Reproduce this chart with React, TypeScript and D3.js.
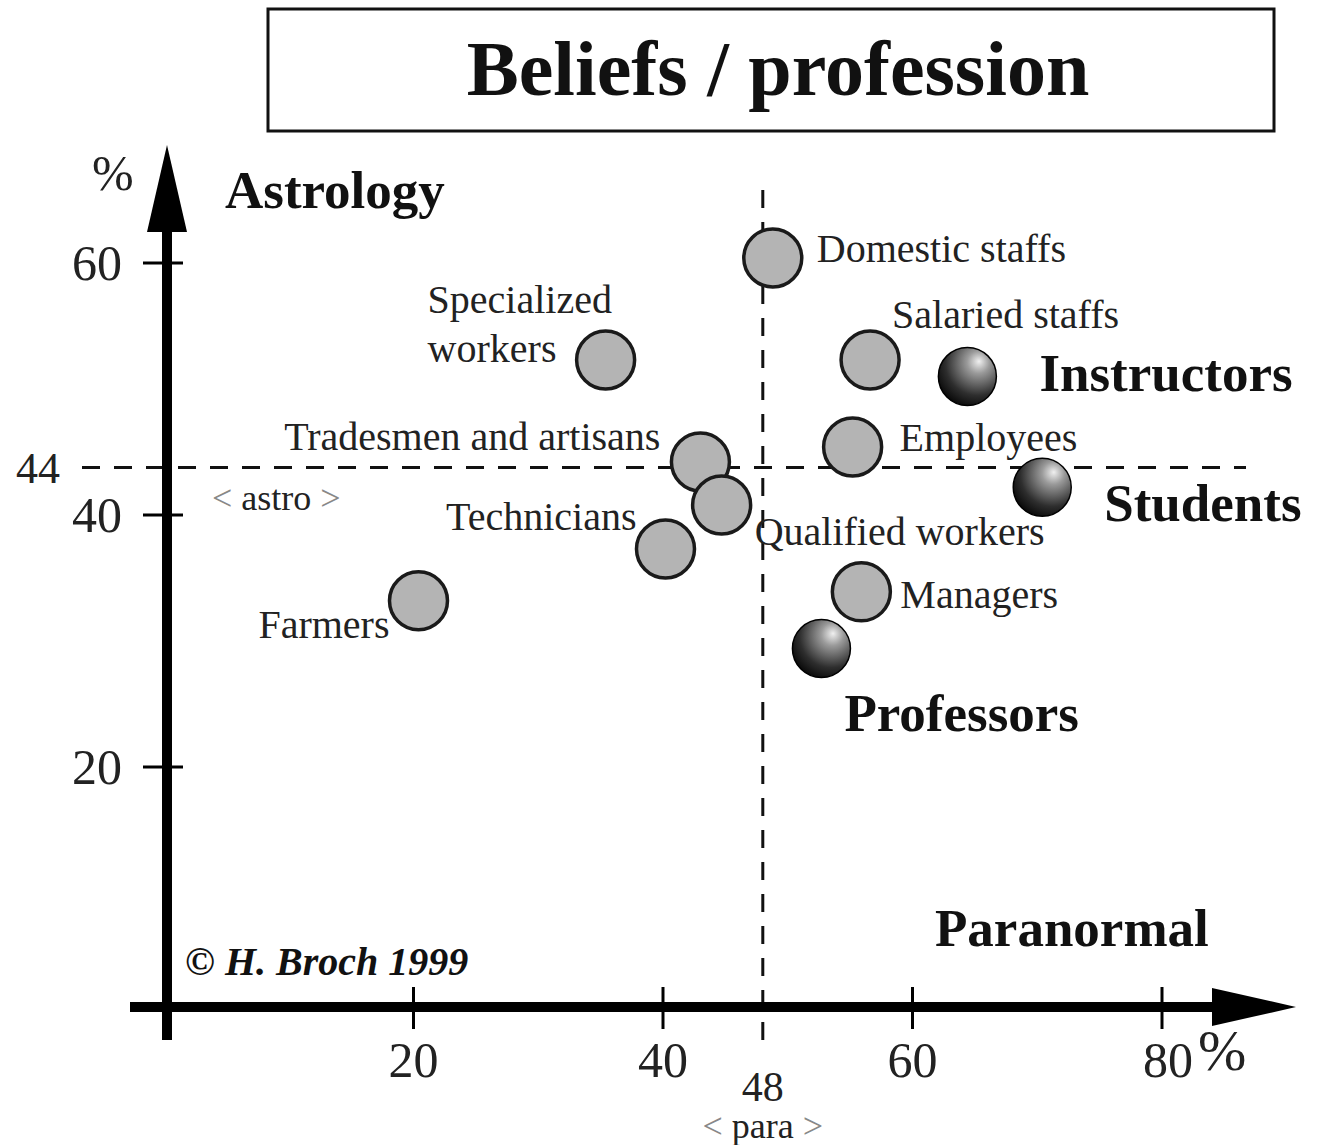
import * as d3 from "d3";

// ── Data ────────────────────────────────────────────────────────────────
const professions = [
  "Domestic staffs",
  "Specialized workers",
  "Salaried staffs",
  "Instructors",
  "Employees",
  "Tradesmen and artisans",
  "Students",
  "Qualified workers",
  "Technicians",
  "Farmers",
  "Managers",
  "Professors",
];
// % believing in paranormal (x) and astrology (y)
const paranormal = [48.8, 35.4, 56.6, 64.4, 55.2, 43.0, 70.4, 44.7, 40.2, 20.4, 55.9, 52.7];
const astrology = [60.4, 52.3, 52.3, 51.0, 45.4, 44.2, 42.2, 40.8, 37.3, 33.2, 33.9, 29.4];
// highlighted groups (dark spheres, bold labels)
const highlighted = ["Instructors", "Students", "Professors"];

const xTicks = [20, 40, 60, 80];
const yTicks = [20, 40, 60];
const paraMean = 48;
const astroMean = 44;

// label placement relative to each point: [dx, dy, anchor]
const labelPos: Record<string, [number, number, string]> = {
  "Domestic staffs": [44, 4, "start"],
  "Specialized workers": [-178, -47, "start"],
  "Salaried staffs": [22, -32, "start"],
  Instructors: [72, 15, "start"],
  Employees: [47, 4, "start"],
  "Tradesmen and artisans": [-40, -12, "end"],
  Students: [62, 34, "start"],
  "Qualified workers": [33, 40, "start"],
  Technicians: [-29, -19, "end"],
  Farmers: [-29, 37, "end"],
  Managers: [39, 16, "start"],
  Professors: [23, 82, "start"],
};

const W = 1326;
const H = 1145;
const SERIF = "'Liberation Serif', 'Times New Roman', serif";

export default function App() {
  const x = d3.scaleLinear().domain([0, 80]).range([164, 1162]);
  const y = d3.scaleLinear().domain([0, 60]).range([1019, 263]);
  const axisY = 1007;
  const axisX = 167;

  const points = professions.map((name, i) => ({
    name,
    px: paranormal[i],
    py: astrology[i],
    dark: highlighted.includes(name),
  }));

  return (
    <svg
      width={W}
      height={H}
      style={{ position: "absolute", left: 0, top: 0, background: "#fff" }}
      fontFamily={SERIF}
    >
      <defs>
        <radialGradient id="sphere" cx="0.66" cy="0.3" r="0.78" fx="0.7" fy="0.24">
          <stop offset="0" stopColor="#f0f0f0" />
          <stop offset="0.25" stopColor="#9a9a9a" />
          <stop offset="0.7" stopColor="#2e2e2e" />
          <stop offset="1" stopColor="#050505" />
        </radialGradient>
      </defs>

      {/* Title box */}
      <rect x={268} y={9} width={1006} height={122} fill="#fff" stroke="#111" strokeWidth={3} />
      <text x={778} y={95} textAnchor="middle" fontSize={78} fontWeight="bold" fill="#111">
        Beliefs / profession
      </text>

      {/* Mean lines */}
      <line
        x1={82}
        x2={1246}
        y1={y(astroMean) + 3}
        y2={y(astroMean) + 3}
        stroke="#111"
        strokeWidth={3}
        strokeDasharray="18 14"
      />
      <line
        x1={x(paraMean)}
        x2={x(paraMean)}
        y1={190}
        y2={1050}
        stroke="#111"
        strokeWidth={3}
        strokeDasharray="18 14"
      />

      {/* Y axis */}
      <line x1={axisX} x2={axisX} y1={1040} y2={228} stroke="#000" strokeWidth={10} />
      <path d={`M${axisX},145 L${axisX - 20},232 L${axisX + 20},232 Z`} fill="#000" />
      {yTicks.map((t) => (
        <g key={t}>
          <line x1={axisX - 24} x2={axisX + 16} y1={y(t)} y2={y(t)} stroke="#000" strokeWidth={3} />
          <text x={122} y={y(t) + 17} textAnchor="end" fontSize={50} fill="#222">
            {t}
          </text>
        </g>
      ))}
      <text x={16} y={y(astroMean) + 18} fontSize={44} fill="#222">
        {astroMean}
      </text>
      <text x={92} y={190} fontSize={50} fill="#222">
        %
      </text>

      {/* X axis */}
      <line x1={130} x2={1220} y1={axisY} y2={axisY} stroke="#000" strokeWidth={10} />
      <path d={`M1296,${axisY} L1212,${axisY - 19} L1212,${axisY + 19} Z`} fill="#000" />
      {xTicks.map((t) => (
        <g key={t}>
          <line x1={x(t)} x2={x(t)} y1={axisY - 20} y2={axisY + 22} stroke="#000" strokeWidth={3} />
          <text x={x(t) + (t === 80 ? 6 : 0)} y={1077} textAnchor="middle" fontSize={50} fill="#222">
            {t}
          </text>
        </g>
      ))}
      <text x={1198} y={1070} fontSize={58} fill="#222">
        %
      </text>
      <text x={x(paraMean)} y={1101} textAnchor="middle" fontSize={42} fill="#222">
        {paraMean}
      </text>
      <text x={x(paraMean)} y={1138} textAnchor="middle" fontSize={36} fill="#222">
        <tspan fill="#888">{"< "}</tspan>para<tspan fill="#888">{" >"}</tspan>
      </text>
      <text x={212} y={y(astroMean) + 45} fontSize={36} fill="#222">
        <tspan fill="#888">{"< "}</tspan>astro<tspan fill="#888">{" >"}</tspan>
      </text>

      {/* Quadrant labels */}
      <text x={225} y={208} fontSize={53} fontWeight="bold" fill="#111">
        Astrology
      </text>
      <text x={935} y={946} fontSize={53} fontWeight="bold" fill="#111">
        Paranormal
      </text>
      <text x={185} y={975} fontSize={40} fontWeight="bold" fontStyle="italic" fill="#111">
        © H. Broch 1999
      </text>

      {/* Points */}
      {points.map((p) => (
        <circle
          key={p.name}
          cx={x(p.px)}
          cy={y(p.py)}
          r={29}
          fill={p.dark ? "url(#sphere)" : "#b4b4b4"}
          stroke={p.dark ? "#000" : "#1a1a1a"}
          strokeWidth={p.dark ? 1.5 : 3.5}
        />
      ))}

      {/* Labels */}
      {points.map((p) => {
        const [dx, dy, anchor] = labelPos[p.name];
        const lx = x(p.px) + dx;
        const ly = y(p.py) + dy;
        if (p.name === "Specialized workers") {
          return (
            <text key={p.name} x={lx} y={ly} fontSize={40} fill="#222">
              <tspan x={lx}>Specialized</tspan>
              <tspan x={lx} dy={49}>workers</tspan>
            </text>
          );
        }
        return (
          <text
            key={p.name}
            x={lx}
            y={ly}
            textAnchor={anchor as any}
            fontSize={p.dark ? 53 : 40}
            fontWeight={p.dark ? "bold" : "normal"}
            fill={p.dark ? "#111" : "#222"}
          >
            {p.name}
          </text>
        );
      })}
    </svg>
  );
}
